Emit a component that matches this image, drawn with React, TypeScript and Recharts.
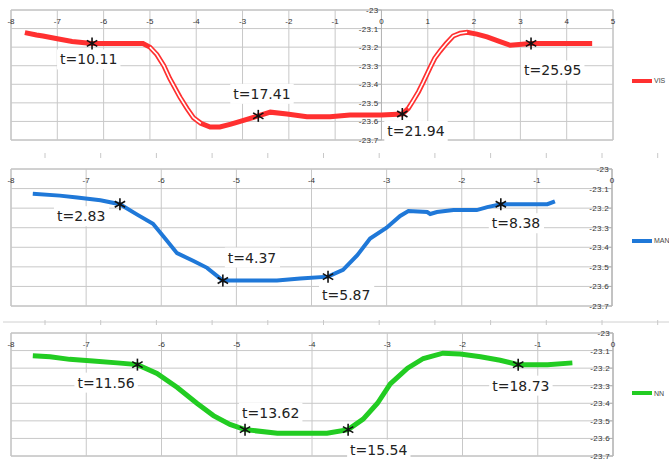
import React from "react";
import { ComposedChart, Line, Scatter, XAxis, YAxis, ReferenceLine, ReferenceArea, Legend } from "recharts";

// y ticks shared by all three panels
const yTicks = [-23.7, -23.6, -23.5, -23.4, -23.3, -23.2, -23.1, -23];

// VIS panel
const visTicks = [-8, -7, -6, -5, -4, -3, -2, -1, 0, 1, 2, 3, 4, 5];
const visX = [-7.7, -7.45, -7.31, -7.0, -6.68, -6.25, -5.6, -5.15, -5.0, -4.85, -4.7, -4.57, -4.35, -4.2, -4.06, -3.9, -3.7, -3.49, -3.25, -3.05, -2.66, -2.4, -2.04, -1.61, -1.11, -0.68, 0.0, 0.45, 0.58, 0.68, 0.8, 0.9, 1.05, 1.15, 1.27, 1.4, 1.55, 1.7, 1.85, 2.06, 2.28, 2.56, 2.78, 3.23, 4.55];
const visY = [-23.122, -23.135, -23.14, -23.155, -23.17, -23.18, -23.18, -23.18, -23.2, -23.24, -23.3, -23.37, -23.47, -23.53, -23.58, -23.61, -23.63, -23.63, -23.615, -23.6, -23.57, -23.55, -23.56, -23.575, -23.575, -23.565, -23.565, -23.56, -23.53, -23.49, -23.44, -23.39, -23.31, -23.26, -23.22, -23.18, -23.14, -23.125, -23.12, -23.13, -23.145, -23.17, -23.19, -23.18, -23.18];
const visMarkX = [-6.25, -2.66, 0.45, 3.23];
const visMarkY = [-23.18, -23.57, -23.56, -23.18];
const visMarkT = ["t=10.11", "t=17.41", "t=21.94", "t=25.95"];

// MAN panel
const negTicks = [-8, -7, -6, -5, -4, -3, -2, -1, 0];
const manX = [-7.71, -7.35, -7.12, -6.81, -6.55, -6.32, -6.11, -5.97, -5.79, -5.57, -5.39, -5.18, -4.46, -4.15, -3.78, -3.58, -3.39, -3.22, -3.0, -2.82, -2.71, -2.46, -2.42, -2.33, -2.11, -1.8, -1.66, -1.48, -0.86, -0.76];
const manY = [-23.126, -23.136, -23.146, -23.16, -23.18, -23.233, -23.28, -23.345, -23.43, -23.47, -23.505, -23.57, -23.57, -23.56, -23.55, -23.515, -23.44, -23.355, -23.3, -23.24, -23.215, -23.22, -23.23, -23.22, -23.21, -23.21, -23.195, -23.18, -23.18, -23.165];
const manMarkX = [-6.55, -5.18, -3.78, -1.48];
const manMarkY = [-23.18, -23.57, -23.55, -23.18];
const manMarkT = ["t=2.83", "t=4.37", "t=5.87", "t=8.38"];

// NN panel
const nnX = [-7.71, -7.48, -7.22, -6.91, -6.59, -6.32, -6.06, -5.79, -5.53, -5.31, -5.09, -4.89, -4.46, -3.8, -3.52, -3.32, -3.13, -2.96, -2.73, -2.52, -2.26, -2.03, -1.76, -1.5, -1.26, -0.87, -0.54];
const nnY = [-23.13, -23.135, -23.15, -23.16, -23.17, -23.18, -23.23, -23.31, -23.4, -23.47, -23.52, -23.55, -23.57, -23.57, -23.55, -23.49, -23.4, -23.29, -23.2, -23.145, -23.115, -23.12, -23.135, -23.155, -23.18, -23.18, -23.17];
const nnMarkX = [-6.32, -4.89, -3.52, -1.26];
const nnMarkY = [-23.18, -23.55, -23.55, -23.18];
const nnMarkT = ["t=11.56", "t=13.62", "t=15.54", "t=18.73"];

const zip = (xs: number[], ys: number[]) => xs.map((x, i) => ({ x, y: ys[i] }));

const GRID = "#c8c8c8";
const FRAME = "#b4b4b4";

const Asterisk = ({ cx, cy }: { cx: number; cy: number }) => {
  const r = 6;
  const a = r * Math.cos(Math.PI / 6);
  const b = r * Math.sin(Math.PI / 6);
  return (
    <g stroke="#111" strokeWidth={1.6}>
      <line x1={cx} y1={cy - r} x2={cx} y2={cy + r} />
      <line x1={cx - a} y1={cy - b} x2={cx + a} y2={cy + b} />
      <line x1={cx - a} y1={cy + b} x2={cx + a} y2={cy - b} />
    </g>
  );
};

interface PanelProps {
  top: number;
  height: number;
  margin: { top: number; right: number; bottom: number; left: number };
  ticks: number[];
  xs: number[];
  ys: number[];
  markX: number[];
  markY: number[];
  markT: string[];
  labelOffsets: number[][];
  hollow?: number[][];
  name: string;
  color: string;
  strokeWidth: number;
}

function Panel(p: PanelProps) {
  const data = zip(p.xs, p.ys);
  // the steep stretches of the VIS trace render as an outlined (hollow) stroke
  const inner = p.hollow
    ? data.map((d) => ({ x: d.x, y: p.hollow!.some(([a, b]) => d.x >= a && d.x <= b) ? d.y : null }))
    : null;
  const marks = p.markX.map((x, i) => ({ x, y: p.markY[i], t: p.markT[i], i }));
  const yLabels = yTicks.map((v) => ({ x: 0, y: v }));
  const xLabels = p.ticks.map((v) => ({ x: v, y: -23 }));
  const xMin = p.ticks[0];
  const xMax = p.ticks[p.ticks.length - 1];
  return (
    <div style={{ position: "absolute", left: 0, top: p.top }}>
      <ComposedChart width={669} height={p.height} margin={p.margin}>
        <XAxis type="number" dataKey="x" domain={[xMin, xMax]} ticks={p.ticks} hide />
        <YAxis type="number" dataKey="y" domain={[-23.7, -23]} ticks={yTicks} hide />
        {p.ticks.map((v) => (
          <ReferenceLine key={"vx" + v} x={v} stroke={GRID} strokeWidth={1} />
        ))}
        {yTicks.map((v) => (
          <ReferenceLine key={"hy" + v} y={v} stroke={GRID} strokeWidth={1} />
        ))}
        <ReferenceArea x1={xMin} x2={xMax} y1={-23.7} y2={-23} fill="none" stroke={FRAME} strokeWidth={1} />
        <ReferenceLine x={0} stroke={FRAME} strokeWidth={1} />
        <Line data={data} dataKey="y" name={p.name} stroke={p.color} strokeWidth={p.strokeWidth} dot={false} isAnimationActive={false} />
        {inner && (
          <Line data={inner} dataKey="y" stroke="#fff" strokeWidth={1.6} dot={false} legendType="none" isAnimationActive={false} />
        )}
        <Scatter
          data={xLabels}
          isAnimationActive={false}
          legendType="none"
          shape={(s: any) => (
            <text x={s.cx} y={s.cy + 14} textAnchor="middle" fontSize={8} fill="#333">
              {String(s.payload.x)}
            </text>
          )}
        />
        <Scatter
          data={yLabels}
          isAnimationActive={false}
          legendType="none"
          shape={(s: any) => (
            <g>
              <line x1={s.cx - 4} x2={s.cx} y1={s.cy} y2={s.cy} stroke={FRAME} />
              <text x={s.cx - 3} y={s.cy + 3} textAnchor="end" fontSize={8} letterSpacing={0.3} fill="#333">
                {String(s.payload.y)}
              </text>
            </g>
          )}
        />
        <Scatter
          data={marks}
          isAnimationActive={false}
          legendType="none"
          shape={(s: any) => {
            const [dx, dy] = p.labelOffsets[s.payload.i];
            const w = s.payload.t.length * 8.2;
            return (
              <g>
                <rect x={s.cx + dx - 3} y={s.cy + dy - 10} width={w + 6} height={20} fill="#fff" />
                <text x={s.cx + dx} y={s.cy + dy + 5} fontSize={14} fontFamily="DejaVu Sans" fill="#222">
                  {s.payload.t}
                </text>
                <Asterisk cx={s.cx} cy={s.cy} />
              </g>
            );
          }}
        />
        <Legend
          wrapperStyle={{ position: "absolute", left: 632, top: p.height / 2 - 3, width: 60 }}
          content={() => (
            <div style={{ display: "flex", alignItems: "center", fontSize: 7, color: "#444" }}>
              <span style={{ display: "inline-block", width: 20, height: 4, background: p.color, marginRight: 2 }} />
              {p.name}
            </div>
          )}
        />
      </ComposedChart>
    </div>
  );
}

export default function App() {
  const rulerX = Array.from({ length: 12 }, (_, i) => 45 + i * 55.7);
  return (
    <div style={{ position: "absolute", left: 0, top: 0, width: 669, height: 465, overflow: "hidden", background: "#fff", fontFamily: "Liberation Sans" }}>
      <Panel
        top={0}
        height={160}
        margin={{ top: 10, right: 56, bottom: 13, left: 11 }}
        ticks={visTicks}
        xs={visX}
        ys={visY}
        markX={visMarkX}
        markY={visMarkY}
        markT={visMarkT}
        labelOffsets={[[-32, 16], [-25, -22], [-15, 17], [-7, 27]]}
        hollow={[[-5.0, -3.9], [0.58, 1.85]]}
        name="VIS"
        color="#ff3030"
        strokeWidth={5}
      />
      <Panel
        top={160}
        height={160}
        margin={{ top: 9, right: 57, bottom: 7, left: 11 }}
        ticks={negTicks}
        xs={manX}
        ys={manY}
        markX={manMarkX}
        markY={manMarkY}
        markT={manMarkT}
        labelOffsets={[[-63, 12], [5, -23], [-6, 18], [-9, 19]]}
        name="MAN"
        color="#1f78d8"
        strokeWidth={4}
      />
      <Panel
        top={320}
        height={145}
        margin={{ top: 13, right: 56, bottom: 2, left: 11 }}
        ticks={negTicks}
        xs={nnX}
        ys={nnY}
        markX={nnMarkX}
        markY={nnMarkY}
        markT={nnMarkT}
        labelOffsets={[[-60, 18], [-3, -17], [2, 20], [-26, 21]]}
        name="NN"
        color="#22cc22"
        strokeWidth={5}
      />
      <svg width={669} height={465} style={{ position: "absolute", left: 0, top: 0, pointerEvents: "none" }}>
        <line x1={3} x2={669} y1={322} y2={322} stroke="#d0d0d0" />
        {rulerX.map((x) => (
          <g key={x} stroke="#c8c8c8">
            <line x1={x} x2={x} y1={153} y2={158} />
            <line x1={x} x2={x} y1={320} y2={325} />
          </g>
        ))}
      </svg>
    </div>
  );
}
